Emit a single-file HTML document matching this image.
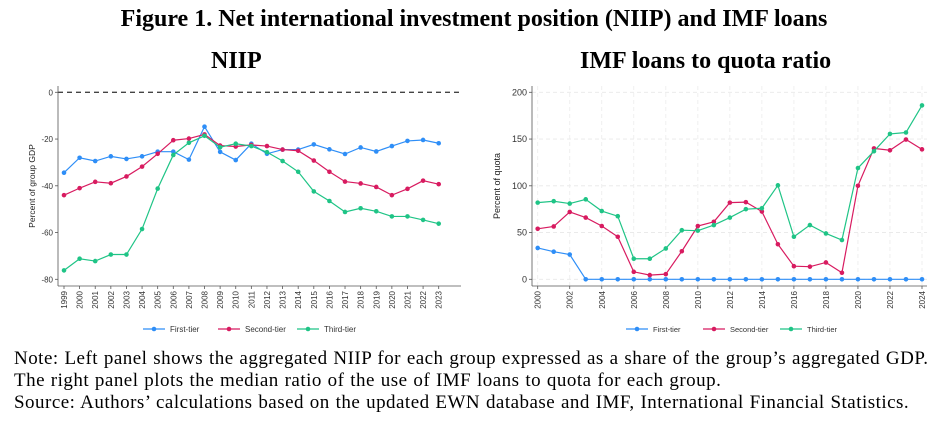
<!DOCTYPE html>
<html><head><meta charset="utf-8"><style>
body{margin:0;background:#fff;width:948px;height:430px;overflow:hidden;font-family:"Liberation Serif",serif}
.t{position:absolute;left:0;width:948px;text-align:center;font-weight:bold;font-size:24px}
.note{position:absolute;left:14px;font-size:19px;letter-spacing:0.48px;word-spacing:0.6px;line-height:22px;white-space:nowrap}
</style></head><body>
<div class="t" style="top:6px">Figure 1. Net international investment position (NIIP) and IMF loans</div>
<div style="position:absolute;left:211px;top:48px;font-weight:bold;font-size:24px">NIIP</div>
<div style="position:absolute;left:580px;top:48px;font-weight:bold;font-size:24px">IMF loans to quota ratio</div>
<svg id="c" width="948" height="345" style="position:absolute;left:0;top:0"></svg>
<div class="note" style="top:348px">Note: Left panel shows the aggregated NIIP for each group expressed as a share of the group’s aggregated GDP.<br>The right panel plots the median ratio of the use of IMF loans to quota for each group.<br>Source: Authors’ calculations based on the updated EWN database and IMF, International Financial Statistics.</div>
<script>
const leftYears=[1999,2000,2001,2002,2003,2004,2005,2006,2007,2008,2009,2010,2011,2012,2013,2014,2015,2016,2017,2018,2019,2020,2021,2022,2023];
const leftFirst=[-34.4,-28,-29.4,-27.4,-28.5,-27.4,-25.4,-25.4,-28.8,-14.7,-25.5,-29,-22,-26.3,-24.5,-24.5,-22.3,-24.4,-26.4,-23.6,-25.3,-23,-20.8,-20.4,-21.8];
const leftSecond=[-44,-41,-38.3,-38.9,-36,-31.8,-26.3,-20.5,-19.8,-18,-22.8,-23.2,-22.5,-23,-24.5,-25,-29.2,-34,-38.2,-39,-40.5,-44,-41.3,-37.8,-39.3];
const leftThird=[-76.2,-71.2,-72.2,-69.4,-69.4,-58.5,-41.2,-26.8,-21.6,-18.6,-23.5,-22,-23,-25.6,-29.4,-34,-42.4,-46.5,-51.2,-49.6,-50.9,-53.1,-53.1,-54.6,-56.2];
const leftTicks=[0,-20,-40,-60,-80];
const rightYears=[2000,2001,2002,2003,2004,2005,2006,2007,2008,2009,2010,2011,2012,2013,2014,2015,2016,2017,2018,2019,2020,2021,2022,2023,2024];
const rightFirst=[33.5,29.5,26.5,0,0,0,0,0,0,0,0,0,0,0,0,0,0,0,0,0,0,0,0,0,0];
const rightSecond=[54,56.5,72,66,57,45.5,8,4.5,5.5,30,57,61.5,82,82.5,72.5,37.5,14,13.5,18,7,100,140,138,149.5,139];
const rightThird=[82,83.5,81,85.5,73,67.5,22,22,33,52.5,52,58,66,75,76,100.5,45.5,58,49,42,119,137,155.5,157,186];
const rightTicks=[0,50,100,150,200];
const colors=['#2e8ef7','#d81b60','#1fc486'];
const names=['First-tier','Second-tier','Third-tier'];
const svg=document.getElementById('c');const NS='http://www.w3.org/2000/svg';
function mk(t,a,p){const e=document.createElementNS(NS,t);for(const k in a)e.setAttribute(k,a[k]);(p||svg).appendChild(e);return e;}
function panel(o){
 const g=mk('g',{});
 
 
 const x=v=>o.x0+(v-o.xs[0])/(o.xs[o.xs.length-1]-o.xs[0])*(o.x1-o.x0);
 const y=v=>o.y0+(v-o.v0)/(o.v1-o.v0)*(o.y1-o.y0);
 if(o.grid){o.ticks.forEach(t=>{mk('line',{x1:o.ax,x2:o.right,y1:y(t),y2:y(t),stroke:'#e8e8e8','stroke-dasharray':'4,3','stroke-width':0.8},g);});
  o.xs.forEach((yr,i)=>{if(i%2==0)mk('line',{x1:x(yr),x2:x(yr),y1:o.top,y2:o.bot,stroke:'#ececec','stroke-dasharray':'4,3','stroke-width':0.8},g);});}
 if(o.zero){const z=mk('line',{x1:o.ax,x2:o.right,y1:y(0),y2:y(0),stroke:'#444','stroke-dasharray':'5,4','stroke-width':1.3},g);}
 mk('line',{x1:o.ax,x2:o.ax,y1:o.top,y2:o.bot,stroke:'#555',"stroke-width":0.8},g);
 mk('line',{x1:o.ax,x2:o.right,y1:o.bot,y2:o.bot,stroke:'#555',"stroke-width":0.8},g);
 o.ticks.forEach(t=>{mk('line',{x1:o.ax-3,x2:o.ax,y1:y(t),y2:y(t),stroke:'#555','stroke-width':0.8},g);
  const tx=mk('text',{x:o.ax-5,y:y(t)+3,'text-anchor':'end','font-size':o.fs,'font-family':'Liberation Sans,sans-serif',fill:'#333'},g);tx.textContent=t;
  });
 o.xs.forEach((yr,i)=>{if(i%o.step)return;mk('line',{x1:x(yr),x2:x(yr),y1:o.bot,y2:o.bot+3,stroke:'#555','stroke-width':0.8},g);
  const tx=mk('text',{x:0,y:0,transform:`translate(${x(yr)+3},${o.bot+5}) rotate(-90)`,'text-anchor':'end','font-size':8,'font-family':'Liberation Sans,sans-serif',fill:'#333'},g);tx.textContent=yr;
  });
 const yl=mk('text',{x:0,y:0,transform:`translate(${o.ylx},${(o.top+o.bot)/2}) rotate(-90)`,'text-anchor':'middle','font-size':o.yfs,'font-family':'Liberation Sans,sans-serif',fill:'#222'},g);yl.textContent=o.ylabel;
 
 o.series.forEach((s,si)=>{const pts=s.map((v,i)=>x(o.xs[i])+','+y(v)).join(' ');
  const pl=mk('polyline',{points:pts,fill:'none',stroke:colors[si],'stroke-width':1.2},g);
  
  s.forEach((v,i)=>{const c=mk('circle',{cx:x(o.xs[i]),cy:y(v),r:2.3,fill:colors[si]},g);});
  const lx=o.legx[si];
  const lg=mk('g',{},g);
  mk('line',{x1:lx,x2:lx+22,y1:329,y2:329,stroke:colors[si],'stroke-width':1.2},lg);
  mk('circle',{cx:lx+11,cy:329,r:2.3,fill:colors[si]},lg);
  const t=mk('text',{x:lx+27,y:332,'font-size':o.lfs,'font-family':'Liberation Sans,sans-serif',fill:'#333'},lg);t.textContent=names[si];});
}
panel({id:'niip',xs:leftYears,x0:64,x1:438.7,v0:0,v1:-80,y0:92.3,y1:279.3,ax:58,right:461,top:86,bot:286,ticks:leftTicks,step:1,zero:true,grid:false,fs:8,yfs:8.5,ylx:35,ylabel:'Percent of group GDP',series:[leftFirst,leftSecond,leftThird],legx:[143,218,297],lfs:8});
panel({id:'imf',xs:rightYears,x0:537.7,x1:922,v0:0,v1:200,y0:279.3,y1:92.3,ax:532,right:927,top:86,bot:286,ticks:rightTicks,step:2,zero:false,grid:true,fs:9,yfs:9,ylx:500,ylabel:'Percent of quota',series:[rightFirst,rightSecond,rightThird],legx:[626,703,780],lfs:7.5});
</script>
</body></html>
